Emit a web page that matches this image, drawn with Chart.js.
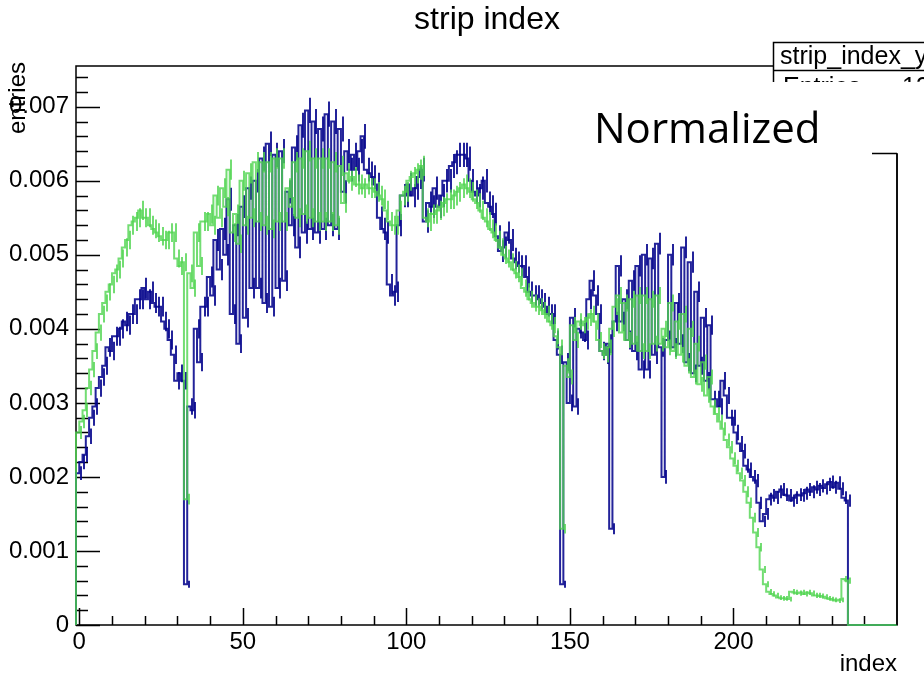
<!DOCTYPE html>
<html>
<head>
<meta charset="utf-8">
<script src="https://cdn.jsdelivr.net/npm/chart.js@4.4.1/dist/chart.umd.min.js"></script>
<style>
  html, body { margin: 0; background: #fff; }
  canvas { display: block; }
</style>
</head>
<body>
<canvas id="chart" width="924" height="674"></canvas>
<script>
// bin contents in units of 1e-3, bins [k, k+1] for k = 0..235
const blueMilli = [
  2.05, 2.2, 2.3, 2.55, 2.8, 2.95, 3.2, 3.35, 3.5, 3.75,
  3.7, 3.9, 3.9, 4.0, 4.1, 4.05, 4.2, 4.2, 4.4, 4.4,
  4.55, 4.4, 4.5, 4.35, 4.3, 4.3, 4.1, 4.0, 3.85, 3.65,
  3.3, 3.4, 3.3, 0.55, 2.95, 2.9, 4.0, 3.55, 4.3, 4.3,
  4.7, 4.45, 5.2, 4.8, 5.35, 5.0, 5.75, 4.2, 5.4, 3.8,
  5.65, 4.15, 5.9, 4.55, 6.0, 4.55, 6.3, 4.35, 6.5, 4.3,
  6.35, 4.55, 6.4, 4.65, 5.85, 5.4, 6.45, 5.1, 6.75, 5.3,
  6.95, 5.35, 6.8, 5.3, 6.7, 5.35, 6.9, 5.4, 6.8, 5.35,
  6.7, 5.85, 6.4, 6.15, 6.35, 6.15, 6.4, 6.6, 6.15, 6.1,
  6.05, 5.95, 5.5, 5.35, 5.3, 4.6, 4.45, 4.5, 5.4, 5.8,
  5.8, 5.95, 5.8, 5.9, 6.05, 6.15, 5.45, 5.7, 5.65, 5.9,
  5.65, 5.8, 6.0, 6.0, 6.2, 6.25, 6.35, 6.35, 6.35, 6.3,
  6.0, 5.85, 5.8, 5.9, 6.0, 5.7, 5.65, 5.55, 5.25, 5.05,
  5.1, 5.3, 5.2, 4.95, 4.9, 4.85, 4.85, 4.7, 4.5, 4.45,
  4.45, 4.4, 4.35, 4.3, 4.2, 4.2, 3.85, 3.65, 0.55, 3.55,
  3.0, 4.15, 2.95, 4.0, 3.95, 3.85, 4.4, 4.65, 4.45, 4.2,
  3.7, 3.65, 3.8, 1.3, 4.1, 4.85, 4.1, 4.4, 3.85, 4.65,
  3.7, 4.85, 3.45, 5.0, 3.45, 4.95, 3.65, 5.15, 3.75, 2.0,
  3.85, 5.0, 3.75, 4.35, 3.8, 5.1, 3.55, 4.9, 3.4, 4.5,
  3.5, 4.15, 3.3, 4.05, 3.05, 3.05, 2.95, 3.3, 3.1, 2.8,
  2.8, 2.6, 2.45, 2.35, 2.15, 2.1, 2.0, 1.95, 1.65, 1.4,
  1.5, 1.7, 1.75, 1.72, 1.8, 1.83, 1.76, 1.75, 1.68, 1.72,
  1.76, 1.75, 1.78, 1.83, 1.8, 1.86, 1.83, 1.88, 1.85, 1.9,
  1.93, 1.86, 1.92, 1.84, 1.72, 1.68
];

const greenMilli = [
  2.6, 2.75, 2.9, 3.2, 3.45, 3.7, 3.95, 4.2, 4.35, 4.5,
  4.6, 4.75, 4.8, 4.95, 5.1, 5.2, 5.4, 5.45, 5.5, 5.6,
  5.5, 5.5, 5.4, 5.35, 5.3, 5.25, 5.2, 5.2, 5.3, 5.3,
  4.95, 4.85, 4.9, 1.7, 4.75, 4.55, 5.3, 4.85, 5.45, 5.45,
  5.55, 5.4, 5.8, 5.5, 5.9, 5.65, 6.15, 5.3, 5.55, 5.15,
  6.0, 5.4, 6.1, 5.5, 6.25, 5.45, 6.25, 5.4, 6.25, 5.35,
  6.3, 5.45, 6.3, 5.45, 5.9, 5.65, 6.25, 5.5, 6.3, 5.55,
  6.4, 5.5, 6.3, 5.45, 6.3, 5.45, 6.3, 5.45, 6.25, 5.4,
  6.2, 5.7, 6.1, 6.0, 6.05, 5.95, 5.95, 5.9, 5.95, 5.9,
  5.9, 5.85, 5.8, 5.75, 5.6, 5.45, 5.4, 5.4, 5.6, 5.8,
  5.85, 6.0, 6.05, 6.1, 6.15, 6.2, 5.5, 5.45, 5.55, 5.55,
  5.6, 5.65, 5.7, 5.75, 5.75, 5.8, 5.85, 5.9, 5.95, 5.9,
  5.85, 5.75, 5.7, 5.6, 5.5, 5.45, 5.35, 5.3, 5.2, 5.1,
  5.0, 4.95, 4.9, 4.8, 4.75, 4.7, 4.55, 4.5, 4.4, 4.35,
  4.3, 4.3, 4.25, 4.2, 4.1, 4.05, 3.9, 3.75, 1.3, 3.5,
  3.35, 4.05, 3.85, 4.1, 4.05, 4.1, 4.15, 4.2, 4.1, 3.85,
  3.7, 3.65, 3.75, 4.0, 4.3, 4.45, 3.95, 4.35, 3.85, 4.4,
  3.8, 4.45, 3.7, 4.45, 3.7, 4.4, 3.8, 4.45, 3.8, 4.0,
  3.75, 4.35, 3.7, 4.1, 3.65, 4.2, 3.5, 4.0, 3.35, 3.8,
  3.25, 3.55, 3.1, 3.35, 2.95, 2.85, 2.75, 2.65, 2.5, 2.4,
  2.25, 2.15, 2.05, 1.95, 1.8, 1.65, 1.45, 1.25, 1.05, 0.75,
  0.55, 0.45, 0.42, 0.4, 0.37, 0.36, 0.36, 0.35, 0.45, 0.44,
  0.43, 0.44, 0.42, 0.44, 0.43, 0.4, 0.4, 0.39, 0.38, 0.36,
  0.35, 0.34, 0.33, 0.34, 0.62, 0.6
];

const xTickValues = [0, 50, 100, 150, 200];
const yTickValues = [0, 0.001, 0.002, 0.003, 0.004, 0.005, 0.006, 0.007];
const xRange = [-1, 250];
const yMax = 0.00755;

const BLUE = 'rgba(5, 5, 140, 0.88)';
const GREEN = 'rgba(80, 212, 80, 0.8)';
const FONT = '"Liberation Sans", Arial, Helvetica, sans-serif';

// step outline: empty bin before 0, filled bins, then empty bins to the axis end
function stepPoints(vals) {
  const pts = [{ x: xRange[0], y: 0 }];
  vals.forEach((v, i) => pts.push({ x: i, y: v / 1000 }));
  pts.push({ x: vals.length, y: 0 });
  pts.push({ x: xRange[1], y: 0 });
  return pts;
}

const errorBars = {
  id: 'errorBars',
  afterDatasetDraw(chart, args) {
    const ds = chart.data.datasets[args.index];
    const { x, y } = chart.scales;
    const ctx = chart.ctx;
    ctx.save();
    ctx.strokeStyle = ds.borderColor;
    ctx.lineWidth = 2;
    ds.bins.forEach((v, i) => {
      const e = ds.errScale * Math.sqrt(v);
      const px = Math.round(x.getPixelForValue(i + 0.5));
      ctx.beginPath();
      ctx.moveTo(px, y.getPixelForValue((v - e) / 1000));
      ctx.lineTo(px, y.getPixelForValue((v + e) / 1000));
      ctx.stroke();
    });
    ctx.restore();
  }
};

const rootFrame = {
  id: 'rootFrame',
  beforeDatasetsDraw(chart) {
    const { ctx, chartArea: a, scales: { x, y } } = chart;
    ctx.save();
    ctx.strokeStyle = '#000';
    ctx.lineWidth = 1.5;
    ctx.strokeRect(a.left, a.top, a.right - a.left, a.bottom - a.top);
    // y ticks, pointing inside
    ctx.beginPath();
    for (let i = 0; i * 0.0002 <= yMax; i++) {
      const py = Math.round(y.getPixelForValue(i * 0.0002)) + 0.5;
      const len = i % 5 === 0 ? 24 : 12;
      ctx.moveTo(a.left, py);
      ctx.lineTo(a.left + len, py);
    }
    // x ticks
    for (let v = 0; v < xRange[1]; v += 10) {
      const px = Math.round(x.getPixelForValue(v)) + 0.5;
      const len = v % 50 === 0 ? 17 : 9;
      ctx.moveTo(px, a.bottom);
      ctx.lineTo(px, a.bottom - len);
    }
    ctx.stroke();
    ctx.restore();
  },
  afterDraw(chart) {
    const { ctx, chartArea: a } = chart;
    ctx.save();
    ctx.fillStyle = '#000';
    ctx.font = '32px ' + FONT;
    ctx.textAlign = 'center';
    ctx.textBaseline = 'middle';
    ctx.fillText('strip index', 487, 20);

    ctx.font = '24px ' + FONT;
    ctx.textAlign = 'right';
    ctx.fillText('index', a.right, 664);
    ctx.save();
    ctx.translate(18, 62);
    ctx.rotate(-Math.PI / 2);
    ctx.textAlign = 'right';
    ctx.fillText('entries', 0, 0);
    ctx.restore();

    // stats box, only its upper part shows
    ctx.fillStyle = '#fff';
    ctx.fillRect(773, 42, 151, 112);
    ctx.strokeStyle = '#000';
    ctx.lineWidth = 1.5;
    ctx.beginPath();
    ctx.moveTo(773.5, 100);
    ctx.lineTo(773.5, 42.5);
    ctx.lineTo(924, 42.5);
    ctx.moveTo(773, 70.5);
    ctx.lineTo(924, 70.5);
    ctx.stroke();
    ctx.fillStyle = '#000';
    ctx.textAlign = 'left';
    ctx.textBaseline = 'alphabetic';
    ctx.font = '25px ' + FONT;
    ctx.fillText('strip_index_y', 780, 64);
    ctx.fillText('Entries', 783, 95);
    ctx.fillText('13', 902, 95);

    // pasted white label over the stats box
    ctx.fillStyle = '#fff';
    ctx.fillRect(580, 82, 344, 71);
    ctx.strokeStyle = '#000';
    ctx.lineWidth = 1.5;
    ctx.beginPath();
    ctx.moveTo(872, 153.5);
    ctx.lineTo(a.right, 153.5);
    ctx.moveTo(a.right, 153);
    ctx.lineTo(a.right, a.bottom);
    ctx.stroke();
    ctx.fillStyle = '#000';
    ctx.font = '42px "Open Sans", "Noto Sans", sans-serif';
    ctx.fillText('Normalized', 594, 143);
    ctx.restore();
  }
};

new Chart(document.getElementById('chart'), {
  type: 'line',
  data: {
    datasets: [
      {
        label: 'green',
        data: stepPoints(greenMilli),
        bins: greenMilli,
        errScale: 0.055,
        borderColor: GREEN,
        borderWidth: 2,
        stepped: 'after',
        pointRadius: 0,
        fill: false,
        clip: 4,
        order: 0
      },
      {
        label: 'blue',
        data: stepPoints(blueMilli),
        bins: blueMilli,
        errScale: 0.065,
        borderColor: BLUE,
        borderWidth: 2,
        stepped: 'after',
        pointRadius: 0,
        fill: false,
        clip: 4,
        order: 1
      }
    ]
  },
  options: {
    responsive: false,
    animation: false,
    events: [],
    layout: { padding: { top: 66, right: 27, left: 0, bottom: 0 } },
    plugins: {
      legend: { display: false },
      title: { display: false },
      tooltip: { enabled: false }
    },
    scales: {
      x: {
        type: 'linear',
        min: xRange[0],
        max: xRange[1],
        grid: { display: false, drawTicks: false },
        border: { display: false },
        afterFit: (s) => { s.height = 49; },
        afterBuildTicks: (s) => { s.ticks = xTickValues.map(v => ({ value: v })); },
        ticks: {
          padding: 3,
          maxRotation: 0,
          color: '#000',
          font: { family: FONT, size: 24 },
          callback: (v) => String(v)
        }
      },
      y: {
        type: 'linear',
        min: 0,
        max: yMax,
        grid: { display: false, drawTicks: false },
        border: { display: false },
        afterFit: (s) => { s.width = 76; },
        afterBuildTicks: (s) => { s.ticks = yTickValues.map(v => ({ value: v })); },
        ticks: {
          padding: 7,
          color: '#000',
          font: { family: FONT, size: 24 },
          callback: (v) => (v === 0 ? '0' : v.toFixed(3))
        }
      }
    }
  },
  plugins: [rootFrame, errorBars]
});
</script>
</body>
</html>
